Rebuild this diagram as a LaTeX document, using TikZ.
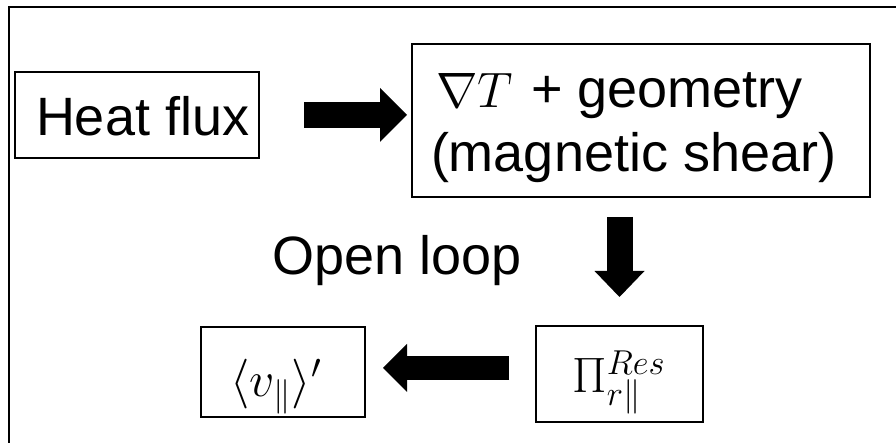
\documentclass[tikz,border=0pt]{standalone}
\usepackage[no-math]{fontspec}
\setmainfont{Liberation Sans}
\usetikzlibrary{arrows.meta}
\tikzset{
  box/.style={draw, line width=1pt, inner sep=0pt, outer sep=0pt, rectangle},
  txt/.style={inner sep=0pt, outer sep=0pt, font=\fontsize{27}{32}\selectfont},
  mth/.style={inner sep=0pt, outer sep=0pt, font=\fontsize{26}{30}\selectfont},
}
\begin{document}
\begin{tikzpicture}[x=0.5pt,y=-0.5pt]
\useasboundingbox (0,0) rectangle (896,443);
% outer frame (partially visible)
\draw[line width=1.4pt] (9,443) -- (9,7) -- (896,7);
% boxes
\node[box, minimum width=122pt, minimum height=43pt] (hf) at (137,115) {};
\node[box, minimum width=229pt, minimum height=76.5pt] (big) at (641,120.5) {};
\node[box, minimum width=82pt, minimum height=45pt] (vp) at (283,372.5) {};
\node[box, minimum width=83.5pt, minimum height=48pt] (res) at (619.5,374) {};
% texts
\node[txt, anchor=base west] (hft) at (36,136) {Heat flux};
\node[txt, anchor=base west] (bigl1) at (436,108) {\makebox[47.5pt][l]{$\nabla T$}+ geometry};
\node[txt, anchor=base west] (bigl2) at (431,172) {(magnetic shear)};
\node[txt, anchor=base west] (ol) at (272,275) {Open loop};
\node[mth, anchor=base] (vpt) at (276,397) {$\langle v_{\parallel}\rangle'$};
\node[mth, anchor=base, font=\fontsize{27}{30}\selectfont] (rest) at (619,393) {$\Pi^{Res}_{r\parallel}$};
% block arrows
\draw[line width=13pt, -{Triangle[length=13.5pt, width=27pt, line width=0pt]},
      shorten <=22.5pt, shorten >=2.5pt] (hf.east) -- (hf.east -| big.west);
\draw[line width=13pt, -{Triangle[length=13pt, width=25pt, line width=0pt]},
      shorten <=10pt, shorten >=14.5pt] (res.north |- big.south) -- (res.north);
\coordinate (la) at ([yshift=3pt]res.west);
\draw[line width=12pt, -{Triangle[length=12pt, width=24pt, line width=0pt]},
      shorten <=13.5pt, shorten >=9pt] (la) -- (la -| vp.east);
\end{tikzpicture}
\end{document}
